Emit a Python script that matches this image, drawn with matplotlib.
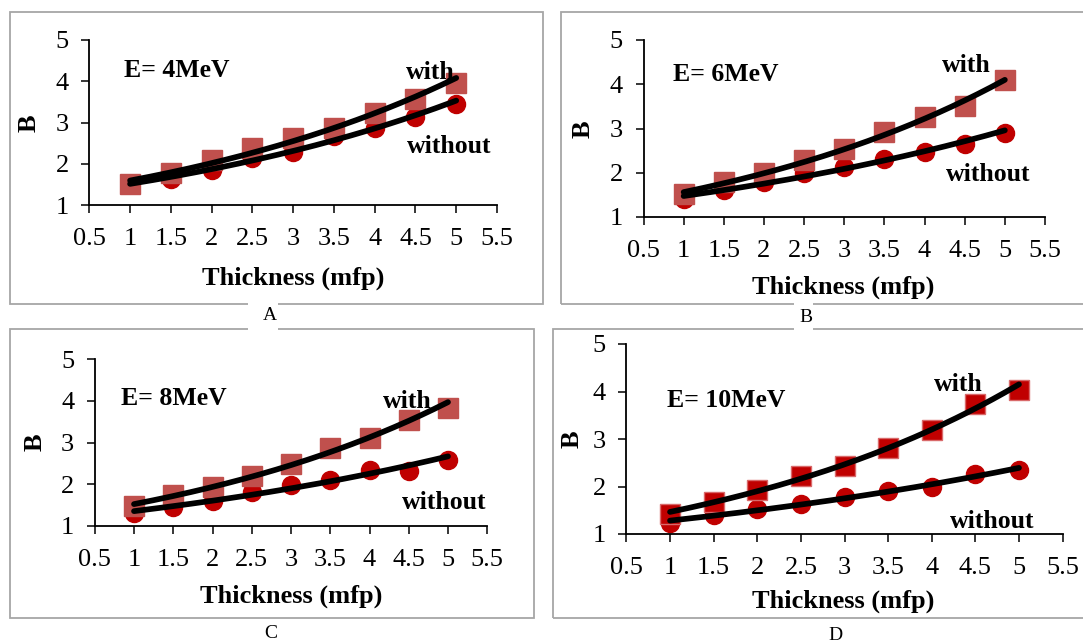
import numpy as np
import matplotlib
matplotlib.use("Agg")
import matplotlib.pyplot as plt
from matplotlib.patches import Rectangle

plt.rcParams["font.family"] = ["Liberation Serif", "DejaVu Serif"]

# Build-up factor B versus shield thickness (mfp), with and without the layer
thickness = [1, 1.5, 2, 2.5, 3, 3.5, 4, 4.5, 5]
energies = ["E= 4MeV", "E= 6MeV", "E= 8MeV", "E= 10MeV"]
panel_letters = ["A", "B", "C", "D"]
x_ticks = [0.5, 1, 1.5, 2, 2.5, 3, 3.5, 4, 4.5, 5, 5.5]
y_ticks = [1, 2, 3, 4, 5]

b_with_4 = [1.50, 1.77, 2.09, 2.37, 2.63, 2.87, 3.24, 3.58, 3.95]
b_without_4 = [1.52, 1.62, 1.86, 2.15, 2.29, 2.67, 2.87, 3.14, 3.46]
b_with_6 = [1.51, 1.78, 2.00, 2.29, 2.54, 2.92, 3.25, 3.51, 4.09]
b_without_6 = [1.40, 1.60, 1.80, 1.99, 2.14, 2.30, 2.48, 2.66, 2.90]
b_with_8 = [1.47, 1.74, 1.94, 2.20, 2.48, 2.88, 3.11, 3.55, 3.82]
b_without_8 = [1.30, 1.46, 1.59, 1.82, 1.99, 2.11, 2.35, 2.32, 2.59]
b_with_10 = [1.43, 1.67, 1.93, 2.22, 2.43, 2.81, 3.20, 3.73, 4.04]
b_without_10 = [1.23, 1.41, 1.52, 1.64, 1.78, 1.91, 1.99, 2.26, 2.34]

series_with = [b_with_4, b_with_6, b_with_8, b_with_10]
series_without = [b_without_4, b_without_6, b_without_8, b_without_10]

W, H = 1083, 644
fig = plt.figure(figsize=(W / 100, H / 100), dpi=100)

def fx(px):
    return px / W

def fy(py):
    return 1 - py / H

# panel layout (pixels): axes extents, frame, label spots
axes_px = [(89.3, 497.0, 40, 205), (643.5, 1045.0, 40, 217),
           (94.75, 487.25, 359, 526), (626.4, 1062.6, 344, 534)]
frames_px = [(10, 12, 543, 304), (560.5, 12, 1095, 304),
             (10, 329, 534, 618), (553, 329, 1095, 618)]
ylabel_px = [(29.5, 123), (582.7, 129), (34.8, 441.7), (572.5, 439)]
xlabel_px = [(292.8, 278), (843.6, 287), (291, 596.7), (843.6, 601.7)]
letter_px = [(270, 316), (806, 318), (271, 633), (835, 635)]
gaps_px = [(248, 299, 278, 333), (794, 299, 813, 333)]
note_pos = [((0.926, 4.27), (4.386, 4.22), (4.398, 2.41)),
            ((0.864, 4.21), (4.22, 4.435), (4.265, 1.97)),
            ((0.834, 4.06), (4.177, 3.99), (4.408, 1.56)),
            ((0.971, 3.82), (4.03, 4.14), (4.21, 1.26))]
square_colors = ["#C0504D", "#C0504D", "#C0504D", "#C00000"]
square_edges = ["#C0504D", "#C0504D", "#C0504D", "#D9696A"]

frame_color = "#A6A6A6"
for (x0, y0, x1, y1) in frames_px:
    fig.patches.append(Rectangle((fx(x0), fy(y1)), fx(x1) - fx(x0), fy(y0) - fy(y1),
                                 transform=fig.transFigure, fill=False,
                                 edgecolor=frame_color, linewidth=1.3, zorder=0))

x = np.array(thickness)
x_fit = np.linspace(1, 5, 200)

for i in range(4):
    x05, x55, y5, y1 = axes_px[i]
    ax = fig.add_axes([fx(x05), fy(y1), fx(x55) - fx(x05), fy(y5) - fy(y1)])
    ax.set_facecolor("none")
    ax.set_xlim(0.5, 5.5)
    ax.set_ylim(1, 5)
    ax.set_xticks(x_ticks)
    ax.set_xticklabels([f"{t:g}" for t in x_ticks])
    ax.set_yticks(y_ticks)
    ax.set_yticklabels([f"{t:g}" for t in y_ticks])
    for side in ("top", "right"):
        ax.spines[side].set_visible(False)
    for side in ("left", "bottom"):
        ax.spines[side].set_linewidth(1.3)
    ax.tick_params(direction="out", length=5.8, width=1.1, labelsize=19)
    ax.tick_params(axis="x", pad=10.5)
    ax.tick_params(axis="y", pad=9)

    yw = np.array(series_with[i])
    yo = np.array(series_without[i])
    ax.plot(x, yo, "o", ms=13, color="#C00000", mec="#C00000", zorder=2, clip_on=False)
    ax.plot(x, yw, "s", ms=15, color=square_colors[i], mec=square_edges[i], mew=1,
            zorder=3, clip_on=False)

    # exponential trendlines fitted on ln(B)
    for yy in (yw, yo):
        k, c = np.polyfit(x, np.log(yy), 1)
        ax.plot(x_fit, np.exp(c + k * x_fit), color="black", lw=4.1,
                solid_capstyle="round", zorder=4, clip_on=False)

    e_pos, w_pos, wo_pos = note_pos[i]
    ax.text(*e_pos, energies[i], fontsize=18.5, fontweight="bold", va="center", ha="left")
    ax.text(*w_pos, "with", fontsize=18.5, fontweight="bold", va="center", ha="left", zorder=5)
    ax.text(*wo_pos, "without", fontsize=18.5, fontweight="bold", va="center", ha="left", zorder=5)

    fig.text(fx(ylabel_px[i][0]), fy(ylabel_px[i][1]), "B", rotation=90, fontsize=19,
             fontweight="bold", ha="center", va="center")
    fig.text(fx(xlabel_px[i][0]), fy(xlabel_px[i][1]), "Thickness (mfp)", fontsize=19,
             fontweight="bold", ha="center", va="center")

for (x0, y0, x1, y1) in gaps_px:
    fig.patches.append(Rectangle((fx(x0), fy(y1)), fx(x1) - fx(x0), fy(y0) - fy(y1),
                                 transform=fig.transFigure, facecolor="white",
                                 edgecolor="none", zorder=1))

for (px, py), letter in zip(letter_px, panel_letters):
    fig.text(fx(px), fy(py), letter, fontsize=14, ha="center", va="center", zorder=6)

fig.savefig("out.png", dpi=100)
